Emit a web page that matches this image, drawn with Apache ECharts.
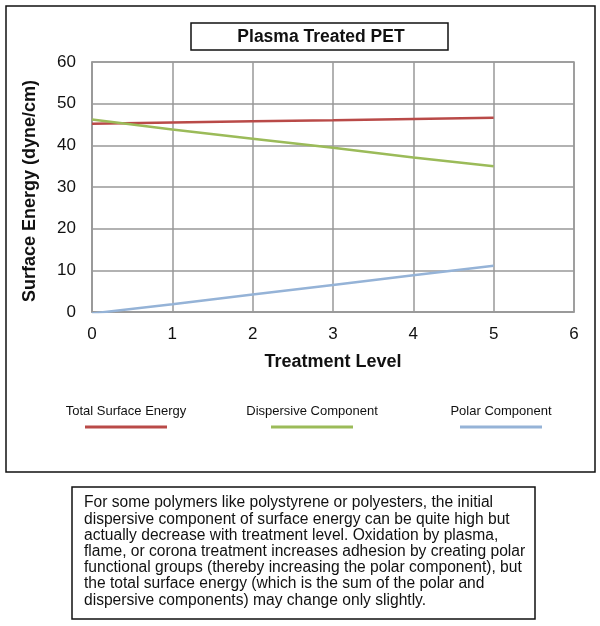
<!DOCTYPE html>
<html>
<head>
<meta charset="utf-8">
<script src="https://cdn.jsdelivr.net/npm/echarts@6/dist/echarts.min.js"></script>
<style>
    html, body { margin: 0; padding: 0; background: #fff; }
    #Root { width: 600px; height: 626px; }
</style>
</head>
<body>
<div id="Root"></div>
<script>
// treatment levels and the three series
const levels = [0, 1, 2, 3, 4, 5]
const totalEnergy = [45.2, 45.5, 45.8, 46.0, 46.3, 46.6]
const dispersive = [46.2, 43.8, 41.6, 39.4, 37.1, 35.0]
const polar = [-0.35, 1.85, 4.2, 6.5, 8.8, 11.1]
const seriesNames = ['Total Surface Energy', 'Dispersive Component', 'Polar Component']
const seriesColors = ['#b94a48', '#9bbb59', '#95b3d7']
const yTicks = [0, 10, 20, 30, 40, 50, 60]

const note = [
    'For some polymers like polystyrene or polyesters, the initial',
    'dispersive component of surface energy can be quite high but',
    'actually decrease with treatment level. Oxidation by plasma,',
    'flame, or corona treatment increases adhesion by creating polar',
    'functional groups (thereby increasing the polar component), but',
    'the total surface energy (which is the sum of the polar and',
    'dispersive components) may change only slightly.'
]

const font = 'Liberation Sans, Arial, sans-serif'

function toPairs(ys) {
    return levels.map((x, i) => [x, ys[i]])
}

let chart = echarts.init(document.getElementById('Root'))

// legend drawn by hand: label above a short line
let legendX = [126, 312, 501]
let legendGraphics = []
seriesNames.forEach((name, i) => {
    legendGraphics.push({
        type: 'text', x: legendX[i], y: 411,
        style: { text: name, font: '13px ' + font, fill: '#111', align: 'center', verticalAlign: 'middle' }
    })
    legendGraphics.push({
        type: 'line',
        shape: { x1: legendX[i] - 41, y1: 427, x2: legendX[i] + 41, y2: 427 },
        style: { stroke: seriesColors[i], lineWidth: 3 }
    })
})

let option = {
    animation: false,
    textStyle: { fontFamily: font },
    grid: {
        left: 92, right: 26, top: 62, bottom: 314,
        show: true, borderColor: '#999', borderWidth: 1.5
    },
    xAxis: {
        type: 'value', min: 0, max: 6, interval: 1,
        name: 'Treatment Level', nameLocation: 'middle', nameGap: 41,
        nameTextStyle: { fontSize: 18, fontWeight: 'bold', color: '#111', fontFamily: font },
        axisLine: { show: true, lineStyle: { color: '#999', width: 1.5 } },
        axisTick: { show: false },
        axisLabel: { fontSize: 17, color: '#111', margin: 14, fontFamily: font },
        splitLine: { show: true, lineStyle: { color: '#999', width: 1.5 } }
    },
    yAxis: {
        type: 'value', min: yTicks[0], max: yTicks[yTicks.length - 1], interval: 10,
        name: 'Surface Energy (dyne/cm)', nameLocation: 'middle', nameGap: 53,
        nameTextStyle: { fontSize: 18, fontWeight: 'bold', color: '#111', fontFamily: font, padding: [0, 8, 0, 0] },
        axisLine: { show: true, lineStyle: { color: '#999', width: 1.5 } },
        axisTick: { show: false },
        axisLabel: { fontSize: 17, color: '#111', margin: 16, fontFamily: font },
        splitLine: { show: true, lineStyle: { color: '#999', width: 1.5 } }
    },
    series: [totalEnergy, dispersive, polar].map((ys, i) => ({
        name: seriesNames[i],
        type: 'line',
        data: toPairs(ys),
        symbol: 'none',
        clip: true,
        lineStyle: { color: seriesColors[i], width: 2.5 },
        itemStyle: { color: seriesColors[i] },
        z: 3 + i
    })),
    graphic: [
        // outer frame around the chart
        { type: 'rect', shape: { x: 6, y: 6, width: 589, height: 466 }, style: { fill: 'none', stroke: '#111', lineWidth: 1.5 }, z: -1 },
        // title box
        { type: 'rect', shape: { x: 191, y: 23, width: 257, height: 27 }, style: { fill: '#fff', stroke: '#111', lineWidth: 1.5 } },
        { type: 'text', x: 321, y: 37, style: { text: 'Plasma Treated PET', font: 'bold 17.5px ' + font, fill: '#111', align: 'center', verticalAlign: 'middle' } },
        // note box below
        { type: 'rect', shape: { x: 72, y: 487, width: 463, height: 132 }, style: { fill: '#fff', stroke: '#111', lineWidth: 1.5 } },
        { type: 'text', x: 84, y: 495, style: { text: note.join('\n'), font: '15.6px ' + font, lineHeight: 16.2, fill: '#111', align: 'left', verticalAlign: 'top' } }
    ].concat(legendGraphics)
}

chart.setOption(option)
</script>
</body>
</html>
